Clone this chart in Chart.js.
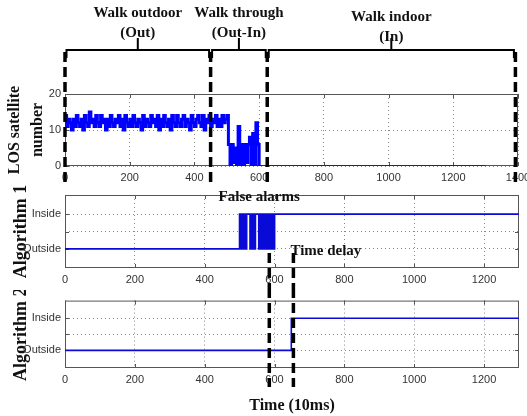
<!DOCTYPE html>
<html>
<head>
<meta charset="utf-8">
<script src="https://cdn.jsdelivr.net/npm/chart.js@4.4.0/dist/chart.umd.min.js"></script>
<style>
  html, body { margin: 0; padding: 0; background: #fff; }
  #wrap { position: relative; width: 527px; height: 416px; overflow: hidden; }
  canvas { position: absolute; left: 0; }
</style>
</head>
<body>
<div id="wrap">
  <canvas id="los" width="527" height="190" style="top:0px"></canvas>
  <canvas id="alg1" width="527" height="108" style="top:182px"></canvas>
  <canvas id="alg2" width="527" height="126" style="top:290px"></canvas>
</div>
<script>
// LOS satellite number, one reading every 5 samples from t=0 to t=600
const losStep = 5;
const losCount = [
  14,11,13,12,10,13,11,14,12,11,
  13,10,14,12,11,15,12,13,11,14,
  12,11,14,12,13,10,13,11,14,12,
  11,13,12,14,11,13,10,14,12,11,
  13,11,14,12,11,13,12,10,14,11,
  13,12,11,14,12,13,11,14,10,13,
  11,14,12,11,13,10,14,12,11,14,
  12,11,13,14,11,13,12,10,14,12,
  11,13,14,12,11,14,10,13,12,14,
  11,13,12,14,11,13,11,14,12,13,
  14,
  6,0,6,1,5,0,11,0,6,0,6,1,6,8,0,9,0,12,6,0
];
const losEndTime = 1300;   // stays at 0 until here

// algorithm decisions: 0 = Outside, 1 = Inside (state held until next time)
const alg1Time  = [0, 500, 505, 510, 515, 520, 525, 530, 535, 540, 545, 550, 555, 560, 565, 570, 575, 580, 585, 590, 595, 600, 1300];
const alg1State = [0, 1,   0,   1,   0,   1,   1,   0,   1,   0,   1,   1,   0,   1,   0,   1,   0,   1,   0,   1,   0,   1,   1];
const alg2Time  = [0, 648, 1300];
const alg2State = [0, 1,   1];

const losTicksX = [0, 200, 400, 600, 800, 1000, 1200, 1400];
const losTicksY = [0, 10, 20];
const algTicksX = [0, 200, 400, 600, 800, 1000, 1200];
const algTicksY = [0, 0.5, 1];
const stateNames = { 0: 'Outside', 1: 'Inside' };

// phase boundaries (dashed lines on top panel) and their titles
const phaseBounds = [0, 450, 625, 1392];
const phaseTitles = [['Walk outdoor', '(Out)'], ['Walk through', '(Out-In)'], ['Walk indoor', '(In)']];
// dashed markers on lower panels: end of false alarms, detection by algorithm 2
const markTimes = [585, 654];

const serif = "'Liberation Serif', 'Times New Roman', serif";
const sans = "'Liberation Sans', Arial, sans-serif";

const losPoints = losCount.map((v, i) => ({ x: i * losStep, y: v }));
losPoints.push({ x: losEndTime, y: 0 });
const pts = (ts, vs) => ts.map((t, i) => ({ x: t, y: vs[i] }));

function dashLine(ctx, x, y1, y2) {
  ctx.save();
  ctx.strokeStyle = '#000';
  ctx.lineWidth = 3.5;
  ctx.setLineDash([10, 5]);
  ctx.beginPath();
  ctx.moveTo(x, y1);
  ctx.lineTo(x, y2);
  ctx.stroke();
  ctx.restore();
}

function boldText(ctx, txt, x, y, size, align) {
  ctx.save();
  ctx.font = 'bold ' + size + 'px ' + serif;
  ctx.fillStyle = '#111';
  ctx.textAlign = align || 'center';
  ctx.textBaseline = 'middle';
  ctx.fillText(txt, x, y);
  ctx.restore();
}

// matlab style box with inward ticks
const boxPlugin = {
  id: 'box',
  beforeDatasetsDraw(chart) {
    const { ctx, chartArea: a, scales } = chart;
    ctx.save();
    ctx.strokeStyle = '#555';
    ctx.lineWidth = 1;
    ctx.strokeRect(a.left + 0.5, a.top + 0.5, a.right - a.left - 1, a.bottom - a.top - 1);
    ctx.beginPath();
    scales.x.ticks.forEach(t => {
      const px = Math.round(scales.x.getPixelForValue(t.value)) + 0.5;
      ctx.moveTo(px, a.bottom); ctx.lineTo(px, a.bottom - 4);
      ctx.moveTo(px, a.top); ctx.lineTo(px, a.top + 4);
    });
    scales.y.ticks.forEach(t => {
      const py = Math.round(scales.y.getPixelForValue(t.value)) + 0.5;
      ctx.moveTo(a.left, py); ctx.lineTo(a.left + 4, py);
      ctx.moveTo(a.right, py); ctx.lineTo(a.right - 4, py);
    });
    ctx.stroke();
    ctx.restore();
  }
};

const phasePlugin = {
  id: 'phases',
  afterDraw(chart) {
    const { ctx, scales: { x } } = chart;
    const xs = phaseBounds.map(v => x.getPixelForValue(v));
    xs.forEach(px => dashLine(ctx, px, 52, 183));
    ctx.save();
    ctx.strokeStyle = '#000';
    ctx.lineWidth = 2;
    for (let i = 0; i < xs.length - 1; i++) {
      const l = xs[i] + 1.5, r = xs[i + 1] - 1.5, c = (xs[i] + xs[i + 1]) / 2;
      ctx.beginPath();
      ctx.moveTo(l, 58); ctx.lineTo(l, 50); ctx.lineTo(r, 50); ctx.lineTo(r, 58);
      ctx.moveTo(c, 50); ctx.lineTo(c, 38);
      ctx.stroke();
      const dy = i === 2 ? 4 : 0;
      boldText(ctx, phaseTitles[i][0], c, 13 + dy, 15);
      boldText(ctx, phaseTitles[i][1], c, 33 + dy, 15);
    }
    ctx.restore();
  }
};

const alarmPlugin = {
  id: 'alarms',
  afterDraw(chart) {
    const { ctx, scales: { x } } = chart;
    markTimes.forEach(t => dashLine(ctx, x.getPixelForValue(t), 71, 110));
    boldText(ctx, 'False alarms', x.getPixelForValue(556), 15, 15);
    boldText(ctx, 'Time delay', x.getPixelForValue(markTimes[1]) - 3, 69, 15, 'left');
  }
};

const delayPlugin = {
  id: 'delay',
  afterDraw(chart) {
    const { ctx, scales: { x } } = chart;
    markTimes.forEach(t => dashLine(ctx, x.getPixelForValue(t), -2, 97));
  }
};

const tickFont = { family: sans, size: 11 };
const gridOpts = { color: '#8a8a8a', drawTicks: false };
const borderOpts = { display: false, dash: [1, 3] };
const plainNum = v => String(v);

function xAxis(max, ticks, height, title) {
  return {
    type: 'linear', min: 0, max: max,
    afterBuildTicks: s => { s.ticks = ticks.map(v => ({ value: v })); },
    afterFit: s => { s.height = height; s.paddingLeft = 0; s.paddingRight = 0; },
    grid: gridOpts, border: borderOpts,
    ticks: { font: tickFont, color: '#333', padding: 5, maxRotation: 0, autoSkip: false, callback: plainNum },
    title: title ? { display: true, text: title, color: '#111',
      font: { family: serif, size: 16, weight: 'bold' }, padding: { top: 0, bottom: 1 } } : { display: false }
  };
}

function yAxis(min, max, ticks, title, titleFont, titlePad, cb) {
  return {
    type: 'linear', min: min, max: max,
    afterBuildTicks: s => { s.ticks = ticks.map(v => ({ value: v })); },
    afterFit: s => { s.width = 65; },
    grid: gridOpts, border: borderOpts,
    ticks: { font: tickFont, color: '#333', padding: 4, autoSkip: false, callback: cb || plainNum },
    title: { display: true, text: title, color: '#111', font: titleFont, padding: { top: titlePad, bottom: 0 } }
  };
}

function baseOptions(padding, scales) {
  return {
    responsive: false, animation: false, events: [],
    layout: { padding: padding },
    plugins: { legend: { display: false }, tooltip: { enabled: false } },
    scales: scales
  };
}

const stateLabel = v => (stateNames[v] !== undefined ? stateNames[v] : '');

new Chart(document.getElementById('los'), {
  type: 'line',
  data: { datasets: [{
    data: losPoints, borderColor: '#0000ff', borderWidth: 3, pointRadius: 0, stepped: 'before', fill: false,
    // thin trace once the count has dropped to zero indoors
    segment: { borderWidth: c => (c.p0.parsed.x >= 600 ? 1.5 : 3) }
  }] },
  options: baseOptions({ top: 94, right: 9, bottom: 0, left: 0 }, {
    x: xAxis(1400, losTicksX, 24),
    y: yAxis(0, 20, losTicksY, ['LOS satellite', 'number'],
      { family: serif, size: 16, weight: 'bold', lineHeight: 1.45 }, 3)
  }),
  plugins: [boxPlugin, phasePlugin]
});

new Chart(document.getElementById('alg1'), {
  type: 'line',
  data: { datasets: [{ data: pts(alg1Time, alg1State), borderColor: '#0a0ad8', borderWidth: 1.8, pointRadius: 0, stepped: 'before', fill: false }] },
  options: baseOptions({ top: 13, right: 8, bottom: 0, left: 0 }, {
    x: xAxis(1300, algTicksX, 22),
    y: yAxis(-0.55, 1.55, algTicksY, 'Algorithm 1', { family: serif, size: 18, weight: 'bold' }, 11, stateLabel)
  }),
  plugins: [boxPlugin, alarmPlugin]
});

new Chart(document.getElementById('alg2'), {
  type: 'line',
  data: { datasets: [{ data: pts(alg2Time, alg2State), borderColor: '#0a0ad8', borderWidth: 1.6, pointRadius: 0, stepped: 'before', fill: false }] },
  options: baseOptions({ top: 6, right: 8, bottom: 0, left: 0 }, {
    x: xAxis(1300, algTicksX, 48, 'Time (10ms)'),
    y: yAxis(-0.55, 1.55, algTicksY, 'Algorithm 2', { family: serif, size: 18, weight: 'bold' }, 11, stateLabel)
  }),
  plugins: [boxPlugin, delayPlugin]
});
</script>
</body>
</html>
